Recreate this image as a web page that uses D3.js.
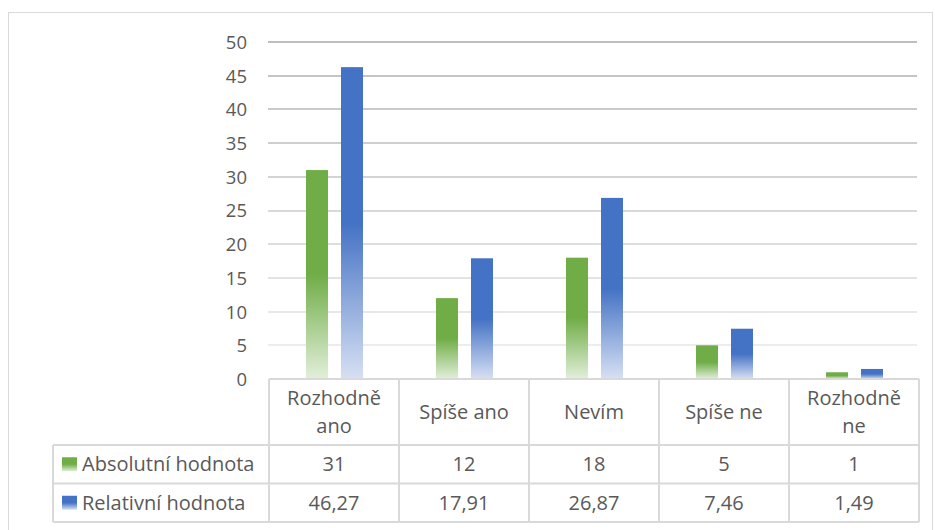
<!DOCTYPE html>
<html>
<head>
<meta charset="utf-8">
<script src="https://cdn.jsdelivr.net/npm/d3@7"></script>
<style>
  html, body { margin: 0; padding: 0; background: #fff; }
  svg { display: block; font-family: "Open Sans", "Noto Sans", sans-serif; }
</style>
</head>
<body>
<svg id="chart" width="935" height="530"></svg>
<script>
// Answer categories (category row of the data table)
const categories = ["Rozhodně ano", "Spíše ano", "Nevím", "Spíše ne", "Rozhodně ne"];
const categoryLines = [["Rozhodně", "ano"], ["Spíše ano"], ["Nevím"], ["Spíše ne"], ["Rozhodně", "ne"]];
// Series
const seriesNames = ["Absolutní hodnota", "Relativní hodnota"];
const absolutni = [31, 12, 18, 5, 1];
const relativni = [46.27, 17.91, 26.87, 7.46, 1.49];
const absolutniLabels = ["31", "12", "18", "5", "1"];
const relativniLabels = ["46,27", "17,91", "26,87", "7,46", "1,49"];
// Value axis ticks
const yTicks = [0, 5, 10, 15, 20, 25, 30, 35, 40, 45, 50];

const seriesValues = [absolutni, relativni];
const seriesLabels = [absolutniLabels, relativniLabels];
const seriesColors = [["#70ad47", "#e2efda"], ["#4472c4", "#d7e0f3"]];

const svg = d3.select("#chart");
const plot = { left: 269, right: 919, top: 42, bottom: 379 };
const textColor = "#595959";
const lineColor = "#d9d9d9";
const tableFont = "20px";

// Outer chart frame
svg.append("rect")
  .attr("x", 8.5).attr("y", 12.5).attr("width", 924).attr("height", 530)
  .attr("fill", "none").attr("stroke", lineColor).attr("stroke-width", 1);

const defs = svg.append("defs");
// Bar fills: solid on the upper half, fading towards the base
seriesColors.forEach((c, i) => {
  const g = defs.append("linearGradient").attr("id", "bar" + i)
    .attr("x1", 0).attr("y1", 0).attr("x2", 0).attr("y2", 1);
  g.append("stop").attr("offset", 0).attr("stop-color", c[0]);
  g.append("stop").attr("offset", 0.5).attr("stop-color", c[0]);
  g.append("stop").attr("offset", 1).attr("stop-color", c[1]);
});
// Gridlines fade from top to bottom
const gg = defs.append("linearGradient").attr("id", "gridFade")
  .attr("gradientUnits", "userSpaceOnUse")
  .attr("x1", 0).attr("y1", plot.top).attr("x2", 0).attr("y2", plot.bottom);
gg.append("stop").attr("offset", 0).attr("stop-color", "#bfbfbf");
gg.append("stop").attr("offset", 1).attr("stop-color", "#f2f2f2");

const y = d3.scaleLinear().domain([0, 50]).range([plot.bottom, plot.top]);
const x0 = d3.scaleBand().domain(categories).range([plot.left, plot.right]).paddingInner(0).paddingOuter(0);
const x1 = d3.scaleBand().domain(seriesNames).range([37, 94]).paddingInner(13 / 35).paddingOuter(0);

// Gridlines
svg.append("g").selectAll("rect")
  .data(yTicks.filter(t => t > 0))
  .join("rect")
  .attr("x", plot.left - 1).attr("width", 917 - plot.left + 1)
  .attr("y", d => Math.round(y(d)) - 1).attr("height", 2)
  .attr("fill", "url(#gridFade)");

// Y axis labels
const yAxis = d3.axisLeft(y).tickValues(yTicks).tickSize(0).tickPadding(0).tickFormat(d3.format("d"));
const ya = svg.append("g").attr("transform", `translate(247,0)`).call(yAxis);
ya.select(".domain").remove();
ya.selectAll("text").attr("fill", textColor).style("font-size", "18.5px")
  .style("font-family", "'Open Sans', 'Noto Sans', sans-serif").attr("dy", "0.35em");

// Bars
seriesNames.forEach((s, si) => {
  svg.append("g").selectAll("rect")
    .data(categories.map((c, i) => ({ c, v: seriesValues[si][i] })))
    .join("rect")
    .attr("x", d => x0(d.c) + x1(s))
    .attr("width", x1.bandwidth())
    .attr("y", d => y(d.v))
    .attr("height", d => y(0) - y(d.v))
    .attr("fill", `url(#bar${si})`);
});

// Data table
const rowY = [379, 445, 483.5, 522];
const tableLeft = 53;
const t = svg.append("g").attr("stroke", lineColor).attr("stroke-width", 2).attr("fill", "none");
// horizontal rules
t.append("line").attr("x1", plot.left).attr("x2", plot.right).attr("y1", rowY[0]).attr("y2", rowY[0]);
[1, 2, 3].forEach(r => {
  t.append("line").attr("x1", tableLeft).attr("x2", plot.right).attr("y1", rowY[r]).attr("y2", rowY[r]);
});
// vertical rules
categories.forEach(c => {
  t.append("line").attr("x1", x0(c)).attr("x2", x0(c)).attr("y1", rowY[0]).attr("y2", rowY[3]);
});
t.append("line").attr("x1", plot.right).attr("x2", plot.right).attr("y1", rowY[0]).attr("y2", rowY[3]);
t.append("line").attr("x1", tableLeft).attr("x2", tableLeft).attr("y1", rowY[1]).attr("y2", rowY[3]);

const txt = svg.append("g").attr("fill", textColor).style("font-size", tableFont).attr("text-anchor", "middle");
// category row
categories.forEach((c, i) => {
  const lines = categoryLines[i];
  const cx = x0(c) + x0.bandwidth() / 2;
  const cy = (rowY[0] + rowY[1]) / 2;
  const lh = 28;
  lines.forEach((ln, k) => {
    txt.append("text").attr("x", cx)
      .attr("y", cy + (k - (lines.length - 1) / 2) * lh)
      .attr("dy", "0.35em").text(ln);
  });
});
// value rows
seriesNames.forEach((s, si) => {
  const cy = (rowY[si + 1] + rowY[si + 2]) / 2;
  categories.forEach((c, i) => {
    txt.append("text").attr("x", x0(c) + x0.bandwidth() / 2).attr("y", cy)
      .attr("dy", "0.35em").text(seriesLabels[si][i]);
  });
  // legend key + series name
  svg.append("rect").attr("x", 62).attr("y", cy - 7).attr("width", 15).attr("height", 14)
    .attr("fill", `url(#bar${si})`);
  svg.append("text").attr("x", 82).attr("y", cy).attr("dy", "0.35em")
    .attr("fill", textColor).style("font-size", tableFont).text(s);
});
</script>
</body>
</html>
